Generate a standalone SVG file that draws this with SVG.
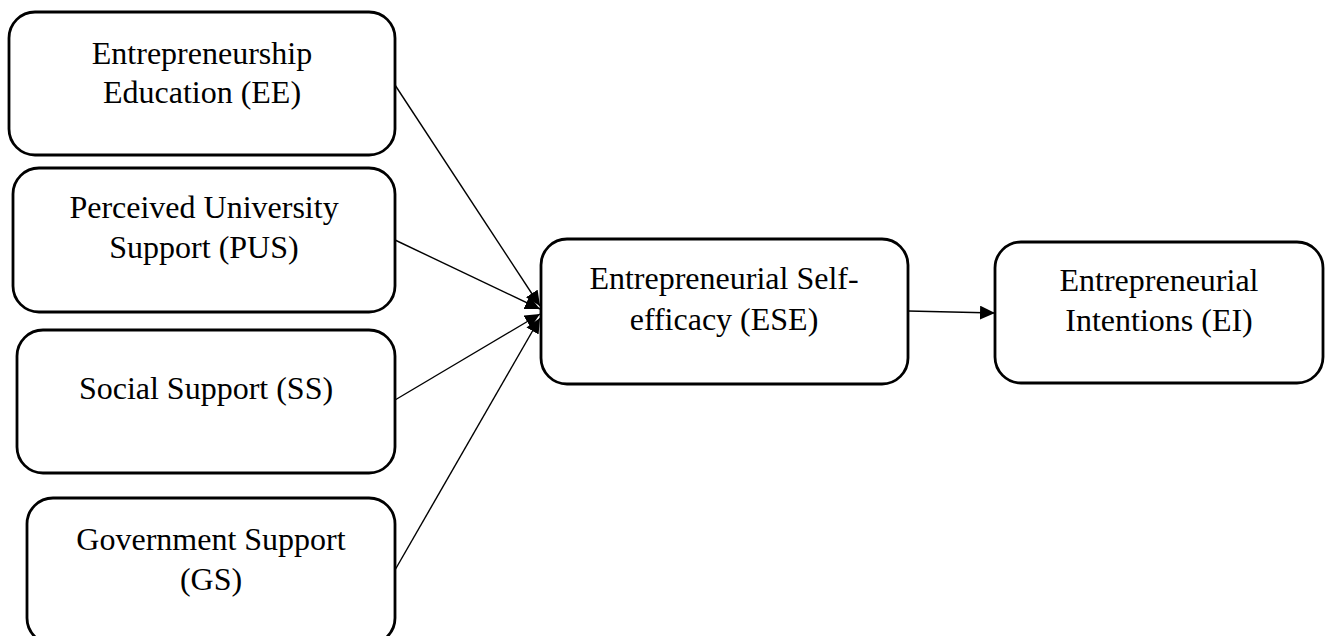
<svg xmlns="http://www.w3.org/2000/svg" width="1330" height="636" viewBox="0 0 1330 636">
<style>
.box{fill:#fff;stroke:#000;stroke-width:2.8}
.t{font-family:"Liberation Serif","Times New Roman",serif;font-size:32px;fill:#000;text-anchor:middle}
.c{stroke:#000;stroke-width:1.4;fill:none}
</style>
<defs>
<marker id="ah" markerUnits="userSpaceOnUse" markerWidth="16" markerHeight="14" refX="15" refY="7" orient="auto">
<path d="M0,0 L15,7 L0,14 Z" fill="#000"/>
</marker>
</defs>
<rect width="1330" height="636" fill="#fff"/>
<g id="connectors">
<line class="c" x1="395" y1="85" x2="540" y2="306" marker-end="url(#ah)"/>
<line class="c" x1="395" y1="240" x2="540" y2="309" marker-end="url(#ah)"/>
<line class="c" x1="395" y1="400" x2="540" y2="314" marker-end="url(#ah)"/>
<line class="c" x1="395" y1="570" x2="540" y2="318" marker-end="url(#ah)"/>
<line class="c" x1="908" y1="311" x2="995" y2="313" marker-end="url(#ah)"/>
</g>
<g id="EE">
<rect class="box" x="9" y="12" width="386" height="143" rx="26"/>
<text class="t" x="202" y="64">Entrepreneurship</text>
<text class="t" x="202" y="103">Education (EE)</text>
</g>
<g id="PUS">
<rect class="box" x="13" y="168" width="382" height="144" rx="26"/>
<text class="t" x="204" y="218">Perceived University</text>
<text class="t" x="204" y="258">Support (PUS)</text>
</g>
<g id="SS">
<rect class="box" x="17" y="330" width="378" height="143" rx="26"/>
<text class="t" x="206" y="399">Social Support (SS)</text>
</g>
<g id="GS">
<rect class="box" x="27" y="498" width="368" height="146" rx="26"/>
<text class="t" x="211" y="550">Government Support</text>
<text class="t" x="211" y="590">(GS)</text>
</g>
<g id="ESE">
<rect class="box" x="541" y="239" width="367" height="145" rx="26"/>
<text class="t" x="724" y="289">Entrepreneurial Self-</text>
<text class="t" x="724" y="330">efficacy (ESE)</text>
</g>
<g id="EI">
<rect class="box" x="995" y="242" width="328" height="141" rx="26"/>
<text class="t" x="1159" y="291">Entrepreneurial</text>
<text class="t" x="1159" y="331">Intentions (EI)</text>
</g>
</svg>
